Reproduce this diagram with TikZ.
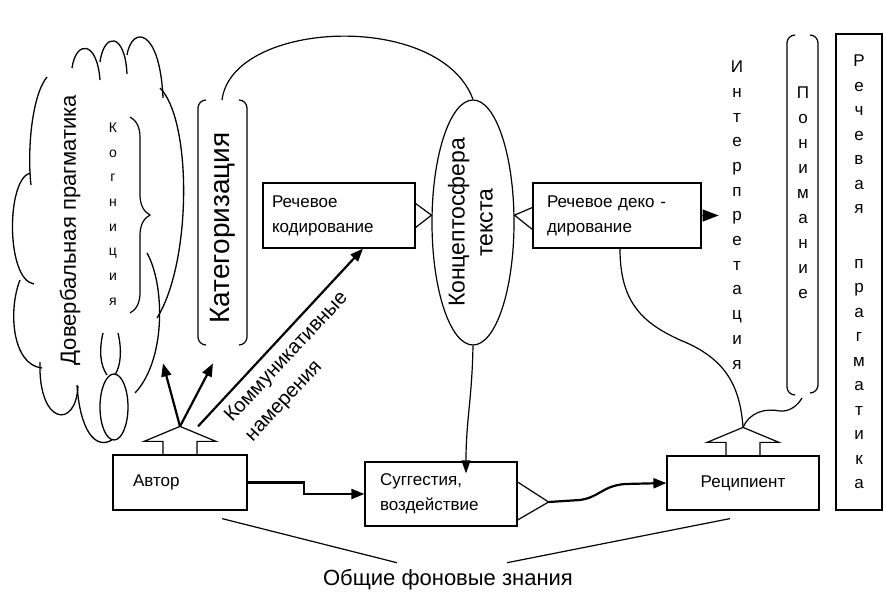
\documentclass[tikz,border=0pt]{standalone}
\usepackage{fontspec}
\setmainfont{Liberation Sans}
\usetikzlibrary{arrows.meta,shapes.geometric,decorations.pathreplacing}

\newcommand\fsz[2]{\fontsize{#1}{#2}\selectfont}
% block arrow on top of a box
\newcommand\drawnotch[1]{%
  \draw ([xshift=-17pt]#1.north) -- ++(0,-13) -- ++(-19,0) -- ([yshift=28pt]#1.north)
    -- ([xshift=36pt,yshift=13pt]#1.north) -- ++(-19,0) -- ++(0,13);}

\begin{document}
\begin{tikzpicture}
  [x=1pt,y=-1pt,line width=1.2pt,
   blok/.style={draw,align=left,inner ysep=0pt,font=\fsz{17}{25}},
   column/.style={align=center,inner sep=0pt},
   bracket/.style={rounded corners=8pt},
   fat/.style={line width=2.2pt,-{Triangle[length=13pt,width=10pt]}},
   puff/.style={line width=1.3pt}]
  \useasboundingbox (0,0) rectangle (884,593);

  % cloud
  \draw[puff] (72,68) .. controls (76,40) and (97,40) .. (100,80);
  \draw[puff] (100,62) .. controls (104,32) and (125,32) .. (127,74);
  \draw[puff] (127,55) .. controls (132,25) and (160,28) .. (163,98);
  \draw[puff] (160,88) .. controls (192,120) and (192,262) .. (157,318);
  \draw[puff] (147,253) .. controls (165,285) and (166,360) .. (135,393);
  \draw[puff] (47,77) .. controls (32,95) and (27,150) .. (31,185);
  \draw[puff] (30,173) .. controls (6,180) and (6,280) .. (34,284);
  \draw[puff] (20,280) .. controls (8,310) and (12,365) .. (42,368);
  \draw[puff] (40,362) .. controls (38,425) and (76,430) .. (78,386);
  \draw[puff] (77,385) .. controls (80,430) and (95,450) .. (112,440);
  \draw[puff] (114,407) ellipse [x radius=14pt, y radius=33pt];
  \draw[puff] (103,333) .. controls (99,350) and (100,365) .. (107,375);
  \draw[puff] (118,333) .. controls (122,350) and (121,365) .. (115,375);

  \node[rotate=90,font=\fsz{22}{26}] (dov) at (70,230) {Довербальная прагматика};
  \node[column,font=\fsz{14}{24.7}] (kog) at (113,214) {К\\о\\г\\н\\и\\ц\\и\\я};
  \draw[decorate,decoration={brace,amplitude=20pt}] (130,117) -- (130,313);

  % categorisation
  \node[rotate=90,font=\fsz{28}{32}] (kat) at (223,228) {Категоризация};
  \draw[bracket] (206,100) -- (198,100) -- (198,345) -- (206,345);
  \draw[bracket] (239,100) -- (247,100) -- (247,345) -- (239,345);

  % boxes
  \node[blok,minimum height=65pt,text width=134pt,inner xsep=9pt] (kod) at (339,215.5) {Речевое\\кодирование};
  \node[blok,minimum height=65pt,text width=140pt,inner xsep=14pt] (dek) at (617,215.5) {Речевое деко -\\дирование};
  \node[blok,minimum height=55pt,text width=94pt,inner xsep=20pt] (avtor) at (180,482.5) {Автор};
  \node[blok,minimum height=64pt,text width=122pt,inner xsep=15pt] (sug) at (441,494) {Суггестия,\\воздействие};
  \node[blok,minimum height=54pt,minimum width=152pt,align=center] (rec) at (743,483) {Реципиент};
  \node[draw,ellipse,minimum width=82pt,minimum height=245pt,inner sep=0pt] (konc) at (473,222.5)
    {\rotatebox{90}{\fsz{23}{28}\begin{tabular}{@{}c@{}}Концептосфера\\текста\end{tabular}}};

  % right columns
  \node[column,font=\fsz{17}{24.7}] (interp) at (737,215) {И\\н\\т\\е\\р\\п\\р\\е\\т\\а\\ц\\и\\я};
  \node[column,font=\fsz{17}{25}] (ponim) at (803,192.5) {П\\о\\н\\и\\м\\а\\н\\и\\е};
  \draw[bracket] (795,35) -- (787,35) -- (787,395) -- (795,395);
  \draw[bracket] (810,35) -- (818,35) -- (818,393) -- (810,393);
  \node[draw,column,minimum width=46pt,minimum height=476pt,font=\fsz{17}{24.5}] (prag) at (859,272)
    {Р\\е\\ч\\е\\в\\а\\я\\[30pt]п\\р\\а\\г\\м\\а\\т\\и\\к\\а};

  \node[font=\fsz{22}{26}] (fon) at (448,580) {Общие фоновые знания};
  \node[rotate=47,align=left,font=\fsz{20}{28}] (kom) at (297,367) {Коммуникативные\\намерения};

  % connectors
  \drawnotch{avtor}
  \drawnotch{rec}
  \coordinate (avtortop) at ([yshift=28pt]avtor.north);
  \coordinate (rectop) at ([yshift=28pt]rec.north);
  \coordinate (sugtip) at ([xshift=31pt,yshift=-8pt]sug.east);

  \draw[fat] (avtortop) -- ++(-17,-63);
  \draw[fat] (avtortop) -- ++(33,-63);
  \draw[fat] ([xshift=18pt]avtortop) -- ([xshift=24pt]kod.south);
  \draw (222,100) .. controls (232,20) and (440,10) .. (konc.north);
  \draw ([yshift=12pt]kod.east) -- (konc.170) -- ([yshift=-12pt]kod.east);
  \draw ([yshift=8pt]dek.west) -- (konc.10) -- ([yshift=-14pt]dek.west);
  \draw[-{Triangle[length=16pt,width=12pt]}] (dek.east) -- ++(17,0);
  \draw[-{Triangle[length=13pt,width=9pt]}] (konc.south) .. controls (472,400) and (466,420) .. ([xshift=25pt,yshift=-12pt]sug.north);
  \draw[fat] (avtor.east) -- ++(56,0) |- (sug.west);
  \draw ([yshift=12pt]sug.east) -- (sugtip) -- ([yshift=-26pt]sug.east);
  \draw[fat] (sugtip) -- (580,500) .. controls (600,497) and (602,486) .. (625,484) -- (rec.west);
  \draw (rectop) .. controls (740,385) and (725,358) .. (680,340) .. controls (640,322) and (620,300) .. ([xshift=3pt]dek.south);
  \draw (rectop) .. controls (750,412) and (765,408) .. (780,411) .. controls (790,412) and (798,405) .. (802,398);
  \draw ([xshift=42pt,yshift=-8pt]avtor.south) -- ([xshift=-51pt,yshift=3pt]fon.north);
  \draw ([xshift=59pt,yshift=3pt]fon.north) -- ([xshift=-13pt,yshift=-8pt]rec.south);
\end{tikzpicture}
\end{document}
